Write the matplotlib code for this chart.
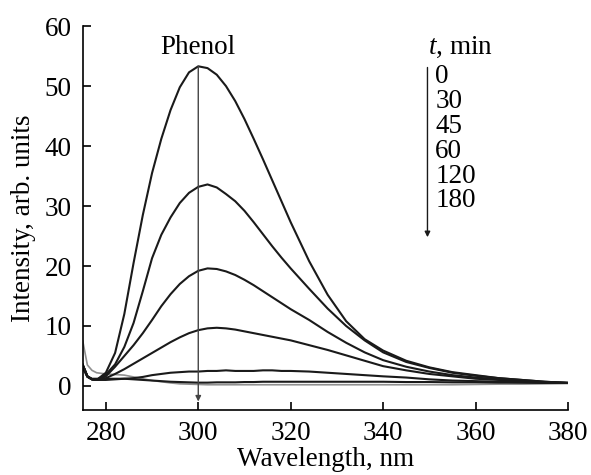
import matplotlib
matplotlib.use("Agg")
import matplotlib.pyplot as plt

plt.rcParams['font.family'] = ['Liberation Serif', 'DejaVu Serif']
plt.rcParams['mathtext.fontset'] = 'custom'
plt.rcParams['mathtext.it'] = 'Liberation Serif:italic'
plt.rcParams['mathtext.rm'] = 'Liberation Serif'

wavelength = [275, 276, 277, 278, 280, 282, 284, 286, 288, 290, 292, 294, 296, 298,
              300, 302, 304, 306, 308, 310, 312, 314, 316, 318, 320, 324, 328, 332,
              336, 340, 345, 350, 355, 360, 365, 370, 375, 380]

t0 = [3.5, 1.6, 1.1, 1.0, 2.2, 5.5, 12.0, 20.5, 28.5, 35.5, 41.2, 46.0, 49.8, 52.3,
      53.3, 53.0, 51.9, 50.0, 47.5, 44.5, 41.2, 37.8, 34.3, 30.8, 27.3, 20.8, 15.2, 10.8,
      7.8, 5.9, 4.2, 3.1, 2.3, 1.8, 1.3, 1.0, 0.7, 0.5]
t30 = [3.5, 1.6, 1.1, 1.0, 1.9, 3.6, 6.5, 10.5, 15.8, 21.3, 25.2, 28.1, 30.5, 32.2,
       33.2, 33.6, 33.1, 32.0, 30.8, 29.2, 27.3, 25.3, 23.3, 21.4, 19.6, 16.2, 12.9, 10.0,
       7.6, 5.6, 4.0, 3.0, 2.2, 1.7, 1.3, 1.0, 0.7, 0.5]
t45 = [3.5, 1.6, 1.1, 1.0, 1.6, 3.2, 5.0, 6.8, 8.8, 11.0, 13.3, 15.3, 17.0, 18.3,
       19.2, 19.6, 19.5, 19.1, 18.5, 17.7, 16.8, 15.8, 14.8, 13.8, 12.8, 11.0, 9.0, 7.2,
       5.6, 4.3, 3.2, 2.4, 1.8, 1.4, 1.1, 0.8, 0.6, 0.5]
t60 = [3.5, 1.6, 1.1, 1.0, 1.3, 2.0, 2.8, 3.7, 4.6, 5.5, 6.4, 7.3, 8.1, 8.8,
       9.3, 9.6, 9.7, 9.6, 9.4, 9.1, 8.8, 8.5, 8.2, 7.9, 7.6, 6.8, 6.0, 5.1,
       4.2, 3.3, 2.6, 2.0, 1.6, 1.2, 1.0, 0.8, 0.6, 0.5]
t120 = [3.0, 1.5, 1.1, 1.0, 1.0, 1.1, 1.2, 1.3, 1.5, 1.8, 2.0, 2.2, 2.3, 2.4,
        2.4, 2.5, 2.5, 2.6, 2.5, 2.5, 2.5, 2.6, 2.6, 2.5, 2.5, 2.4, 2.2, 2.0,
        1.8, 1.6, 1.4, 1.1, 0.9, 0.8, 0.7, 0.6, 0.55, 0.5]
t180 = [3.5, 1.6, 1.2, 1.2, 1.2, 1.2, 1.2, 1.1, 1.0, 0.9, 0.8, 0.7, 0.65, 0.6,
        0.55, 0.55, 0.6, 0.6, 0.6, 0.65, 0.65, 0.7, 0.7, 0.7, 0.7, 0.7, 0.7, 0.7,
        0.7, 0.7, 0.65, 0.65, 0.6, 0.6, 0.55, 0.55, 0.5, 0.5]
blank = [7.5, 3.5, 2.6, 2.2, 2.0, 1.9, 1.8, 1.5, 1.2, 0.9, 0.7, 0.5, 0.35, 0.3,
         0.25, 0.2, 0.2, 0.2, 0.2, 0.2, 0.2, 0.2, 0.2, 0.2, 0.2, 0.2, 0.2, 0.2,
         0.2, 0.2, 0.2, 0.2, 0.2, 0.25, 0.3, 0.3, 0.35, 0.4]

times = ["0", "30", "45", "60", "120", "180"]
series = [t0, t30, t45, t60, t120, t180]

FS = 19.5

fig = plt.figure(figsize=(5.91, 4.75), dpi=100)
ax = fig.add_axes([0.140, 0.137, 0.821, 0.808])

ax.plot(wavelength, blank, color='#909090', lw=1.2)
for s in series:
    ax.plot(wavelength, s, color='#1a1a1a', lw=1.5)

ax.set_xlim(275, 380)
ax.set_ylim(-4, 60)
ax.set_xticks([280, 300, 320, 340, 360, 380])
ax.set_yticks([0, 10, 20, 30, 40, 50, 60])
for sp in ['top', 'right']:
    ax.spines[sp].set_visible(False)
for sp in ['left', 'bottom']:
    ax.spines[sp].set_linewidth(1.2)
ax.tick_params(direction='in', length=5.8, width=1.2, labelsize=FS)
ax.tick_params(axis='x', pad=8)
ax.tick_params(axis='y', pad=8)
ax.set_xlabel("Wavelength, nm", fontsize=FS, labelpad=1)
ax.set_ylabel("Intensity, arb. units", fontsize=FS, labelpad=6)

# Phenol arrow
ax.annotate("", xy=(300, -2.6), xytext=(300, 53.3),
            arrowprops=dict(arrowstyle='-|>', color='#444444', lw=1.0,
                            mutation_scale=8, shrinkA=0, shrinkB=0))
ax.text(300, 56.4, "Phenol", ha='center', va='center', fontsize=FS)

# time legend
ax.text(349.7, 56.4, r"$t$, min", ha='left', va='center', fontsize=FS)
ax.annotate("", xy=(349.6, 24.8), xytext=(349.6, 53.1),
            arrowprops=dict(arrowstyle='-|>', color='#1a1a1a', lw=1.0,
                            mutation_scale=8, shrinkA=0, shrinkB=0))
ys = [51.6, 47.4, 43.3, 39.1, 35.0, 30.9]
for lab, yy in zip(times, ys):
    ax.text(351.3, yy, lab, ha='left', va='center', fontsize=FS)

fig.savefig("out.png", dpi=100)
